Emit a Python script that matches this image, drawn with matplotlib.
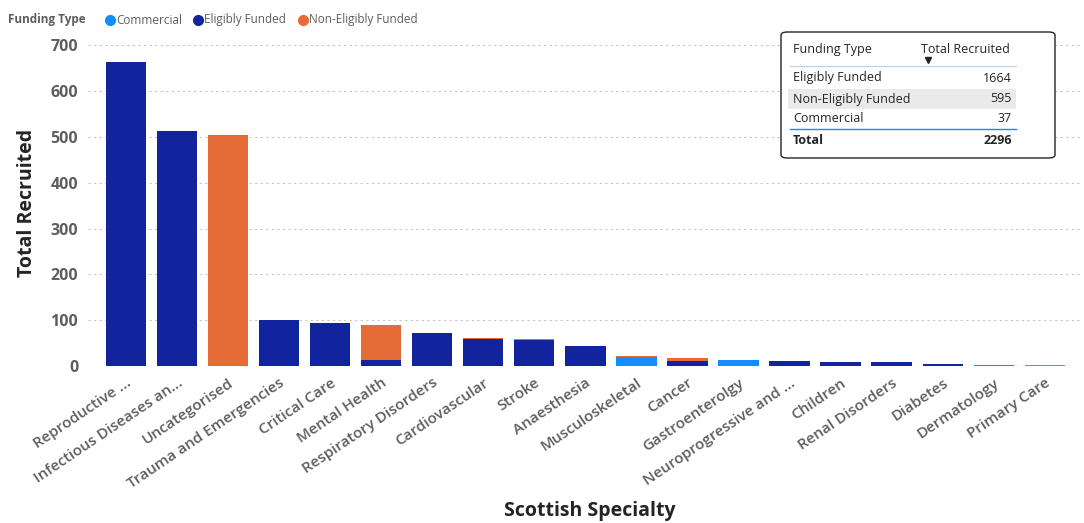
import matplotlib.pyplot as plt
from matplotlib.patches import FancyBboxPatch, Rectangle
from matplotlib.lines import Line2D
import numpy as np

W, H = 1084, 523

specialties = [
    "Reproductive ...", "Infectious Diseases an...", "Uncategorised",
    "Trauma and Emergencies", "Critical Care", "Mental Health",
    "Respiratory Disorders", "Cardiovascular", "Stroke", "Anaesthesia",
    "Musculoskeletal", "Cancer", "Gastroenterolgy", "Neuroprogressive and ...",
    "Children", "Renal Disorders", "Diabetes", "Dermatology", "Primary Care",
]
commercial = [0, 0, 0, 0, 0, 0, 0, 0, 0, 0, 20, 0, 14, 0, 0, 0, 0, 3, 0]
eligibly = [664, 513, 0, 100, 95, 13, 72, 60, 56, 44, 0, 12, 0, 12, 9, 9, 5, 0, 0]
non_eligibly = [0, 0, 504, 0, 0, 77, 0, 1, 3, 0, 2, 6, 0, 0, 0, 0, 0, 0, 2]

series_names = ["Commercial", "Eligibly Funded", "Non-Eligibly Funded"]
COLORS = {"Commercial": "#118DFF", "Eligibly Funded": "#12239E",
          "Non-Eligibly Funded": "#E66C37"}
yticks = [0, 100, 200, 300, 400, 500, 600, 700]

TEXT_GRAY = "#605E5C"
plt.rcParams["font.family"] = ["Open Sans", "DejaVu Sans"]


def fx(x):
    return x / W


def fy(y):
    return 1 - y / H


fig = plt.figure(figsize=(W / 100, H / 100), dpi=100)
ax = fig.add_axes([fx(88), fy(366), fx(1080) - fx(88), fy(40) - fy(366)])

x = np.arange(len(specialties))
bottom = np.zeros(len(specialties))
for name, vals in zip(series_names, [commercial, eligibly, non_eligibly]):
    ax.bar(x, vals, bottom=bottom, width=0.79, color=COLORS[name], zorder=3)
    bottom += np.array(vals)

ax.set_xlim(-0.744, 18.69)
ax.set_ylim(0, 712)
ax.set_yticks(yticks)
ax.set_yticklabels([str(v) for v in yticks], fontsize=11.5, fontweight="bold",
                   color=TEXT_GRAY)
for v in yticks:
    ax.axhline(v, color="#C8C6C4", lw=0.8, ls=(0, (2, 3)), zorder=1)
ax.set_xticks(x)
ax.set_xticklabels(specialties, rotation=34, ha="right", rotation_mode="anchor",
                   fontsize=11, fontweight="semibold", color=TEXT_GRAY)
ax.tick_params(length=0, pad=7)
for s in ax.spines.values():
    s.set_visible(False)

ax.set_ylabel("Total Recruited", fontsize=14, fontweight="bold", color="#252423",
              labelpad=10)
fig.text(fx(590), fy(511), "Scottish Specialty", fontsize=14, fontweight="bold",
         color="#252423", ha="center", va="center")

# legend row across the top
fig.text(fx(8), fy(20), "Funding Type", fontsize=8.5, fontweight="bold",
         color=TEXT_GRAY, va="center")
for name, lx in zip(series_names, [110, 198, 303]):
    fig.add_artist(Line2D([fx(lx)], [fy(20)], marker="o", markersize=7,
                          color=COLORS[name], transform=fig.transFigure))
    fig.text(fx(lx + 6), fy(20), name, fontsize=8.5, color=TEXT_GRAY, va="center")

# summary table
totals = {"Eligibly Funded": sum(eligibly),
          "Non-Eligibly Funded": sum(non_eligibly),
          "Commercial": sum(commercial)}
fig.add_artist(FancyBboxPatch((fx(781), fy(158)), fx(1055) - fx(781),
                              fy(32) - fy(158),
                              boxstyle="round,pad=0,rounding_size=0.006",
                              transform=fig.transFigure, facecolor="white",
                              edgecolor="#252423", lw=1.0, zorder=5))
fig.text(fx(793), fy(49), "Funding Type", fontsize=9, color="#252423",
         va="center", zorder=6)
fig.text(fx(1010), fy(49), "Total Recruited", fontsize=9, color="#252423",
         va="center", ha="right", zorder=6)
fig.add_artist(Line2D([fx(928)], [fy(60)], marker="v", markersize=4,
                      color="#252423", transform=fig.transFigure, zorder=6))
fig.add_artist(Line2D([fx(790), fx(1016)], [fy(66), fy(66)], color="#B3D4F0",
                      lw=0.8, transform=fig.transFigure, zorder=6))
fig.add_artist(Rectangle((fx(788), fy(109)), fx(1016) - fx(788),
                         fy(89) - fy(109), transform=fig.transFigure,
                         facecolor="#EAEAEA", edgecolor="none", zorder=5.5))
row_y = [78, 99, 119]
for name, ry in zip(["Eligibly Funded", "Non-Eligibly Funded", "Commercial"], row_y):
    fig.text(fx(793), fy(ry), name, fontsize=9, color="#252423", va="center",
             zorder=6)
    fig.text(fx(1012), fy(ry), str(totals[name]), fontsize=9, color="#252423",
             va="center", ha="right", zorder=6)
fig.add_artist(Line2D([fx(790), fx(1016)], [fy(129), fy(129)], color="#118DFF",
                      lw=1.0, transform=fig.transFigure, zorder=6))
fig.text(fx(793), fy(140), "Total", fontsize=9, fontweight="bold",
         color="#252423", va="center", zorder=6)
fig.text(fx(1012), fy(140), str(sum(totals.values())), fontsize=9,
         fontweight="bold", color="#252423", va="center", ha="right", zorder=6)

fig.savefig("out.png", dpi=100)
